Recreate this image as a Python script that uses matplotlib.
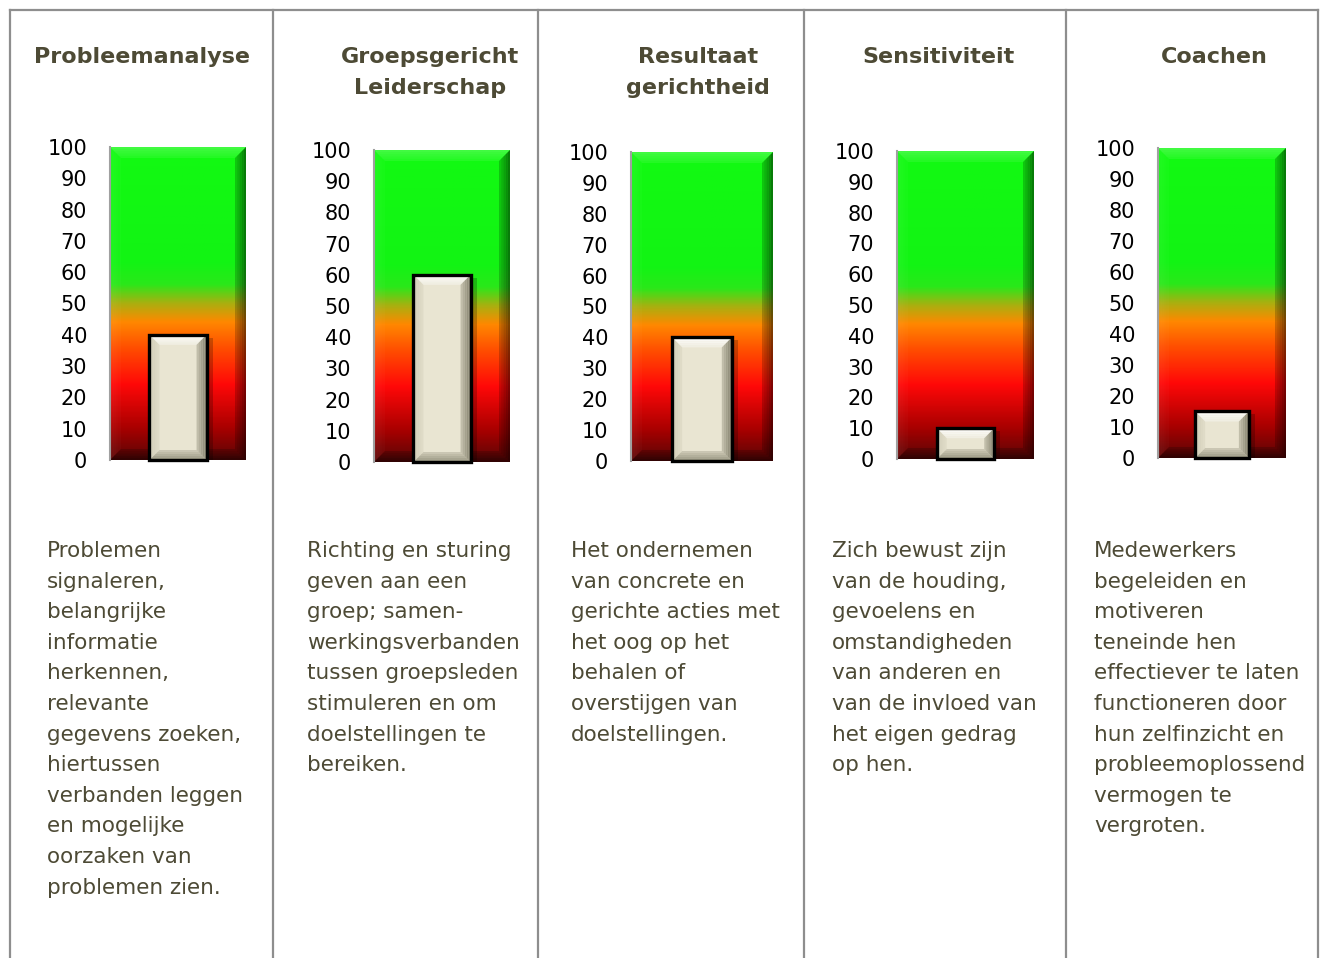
import numpy as np
import matplotlib.pyplot as plt
from matplotlib.colors import LinearSegmentedColormap
from matplotlib.patches import Polygon, Rectangle
from matplotlib.lines import Line2D

W, H = 1320, 958

# --- data ---
title_lines = [
    ['Probleemanalyse'],
    ['Groepsgericht', 'Leiderschap'],
    ['Resultaat', 'gerichtheid'],
    ['Sensitiviteit'],
    ['Coachen'],
]
scores = [40, 60, 40, 10, 15]
tick_values = [0, 10, 20, 30, 40, 50, 60, 70, 80, 90, 100]
descriptions = [
    ['Problemen', 'signaleren,', 'belangrijke', 'informatie', 'herkennen,',
     'relevante', 'gegevens zoeken,', 'hiertussen', 'verbanden leggen',
     'en mogelijke', 'oorzaken van', 'problemen zien.'],
    ['Richting en sturing', 'geven aan een', 'groep; samen-',
     'werkingsverbanden', 'tussen groepsleden', 'stimuleren en om',
     'doelstellingen te', 'bereiken.'],
    ['Het ondernemen', 'van concrete en', 'gerichte acties met',
     'het oog op het', 'behalen of', 'overstijgen van', 'doelstellingen.'],
    ['Zich bewust zijn', 'van de houding,', 'gevoelens en', 'omstandigheden',
     'van anderen en', 'van de invloed van', 'het eigen gedrag', 'op hen.'],
    ['Medewerkers', 'begeleiden en', 'motiveren', 'teneinde hen',
     'effectiever te laten', 'functioneren door', 'hun zelfinzicht en',
     'probleemoplossend', 'vermogen te', 'vergroten.'],
]

# --- layout (pixels) ---
col_edges = [10, 273, 538, 804, 1066, 1318]
gauge_boxes = [(110, 246, 147, 460), (374, 510, 150, 462), (631, 773, 152, 461),
               (897, 1034, 151, 459), (1158, 1286, 148, 458)]
title_centers = [142, 430, 698, 938, 1214]
text_left = [47, 307, 571, 832, 1094]

text_color = '#4d4a35'
line_color = '#8e8e8e'
gauge_cmap = LinearSegmentedColormap.from_list('gauge', [
    (0.00, '#5a0606'), (0.10, '#a80000'), (0.24, '#ff0808'), (0.36, '#ff5000'),
    (0.44, '#ff8800'), (0.50, '#a8b010'), (0.56, '#2ae81a'), (0.63, '#12f414'),
    (1.00, '#12fa12')])

plt.rcParams['font.family'] = ['DejaVu Sans']


def fx(px):
    return px / W


def fy(py):
    return 1 - py / H


def bevel(ax, x0, x1, y0, y1, bx, by, colors, alphas, z, steps=5):
    # soft bevel: each side is a stack of thin bands fading toward the centre
    for j in range(steps):
        a, b = j / steps, (j + 1) / steps
        outer = [(x0 + bx * a, y1 - by * a), (x1 - bx * a, y1 - by * a),
                 (x1 - bx * a, y0 + by * a), (x0 + bx * a, y0 + by * a)]
        inner = [(x0 + bx * b, y1 - by * b), (x1 - bx * b, y1 - by * b),
                 (x1 - bx * b, y0 + by * b), (x0 + bx * b, y0 + by * b)]
        fade = 1 - 0.75 * j / steps
        for k in range(4):
            poly = [outer[k], outer[(k + 1) % 4], inner[(k + 1) % 4], inner[k]]
            ax.add_patch(Polygon(poly, closed=True, facecolor=colors[k],
                                 alpha=alphas[k] * fade, edgecolor='none',
                                 zorder=z, clip_on=False))


fig = plt.figure(figsize=(W / 100, H / 100), dpi=100)
fig.patch.set_facecolor('white')

# table lines
for x in col_edges:
    fig.add_artist(Line2D([fx(x), fx(x)], [fy(10), fy(H)], color=line_color, lw=1.6))
fig.add_artist(Line2D([fx(col_edges[0]), fx(col_edges[-1])], [fy(10), fy(10)],
                      color=line_color, lw=1.6))

gradient = np.linspace(0, 100, 256).reshape(-1, 1)
bar_w = 0.42

for i in range(5):
    gx0, gx1, gy0, gy1 = gauge_boxes[i]
    gw, gh = gx1 - gx0, gy1 - gy0
    ax = fig.add_axes([fx(gx0), fy(gy1), gw / W, gh / H])
    ax.imshow(gradient, cmap=gauge_cmap, vmin=0, vmax=100, origin='lower',
              extent=(0, 1, 0, 100), aspect='auto', zorder=1)
    ax.set_xlim(0, 1)
    ax.set_ylim(0, 100)
    ax.set_xticks([])
    ax.set_yticks(tick_values)
    ax.tick_params(axis='y', length=0, pad=16.5, labelsize=15, labelcolor='black')
    for spine in ax.spines.values():
        spine.set_visible(False)

    # gauge bevel
    bevel(ax, 0, 1, 0, 100, 11 / gw, 11 / gh * 100,
          ['white', 'black', 'black', 'white'], [0.2, 0.5, 0.45, 0.06], 1.5)
    ax.plot([0, 0], [0, 100], color='#a0a0a0', lw=1.5, zorder=1.6, clip_on=False)

    # bar
    v = scores[i]
    bx0, bx1 = 0.5 - bar_w / 2, 0.5 + bar_w / 2
    ax.add_patch(Rectangle((bx0 + 6 / gw, 0), bar_w, v - 3 / gh * 100, facecolor='black',
                           alpha=0.22, edgecolor='none', zorder=2.5))
    ax.bar(0.5, v, width=bar_w, color='#e9e5d2', edgecolor='none', zorder=3, clip_on=False)
    bevel(ax, bx0, bx1, 0, v, 10 / gw, 10 / gh * 100,
          ['#ffffff', '#6f6c58', '#8a8772', '#c8c4ae'], [0.9, 0.8, 0.8, 0.7], 4)
    ax.bar(0.5, v, width=bar_w, color='none', edgecolor='black', linewidth=2.4,
           zorder=5, clip_on=False)

    # title
    lines = title_lines[i]
    for k, line in enumerate(lines):
        fig.text(fx(title_centers[i]), fy(57 + 31 * k), line, ha='center', va='center',
                 fontsize=16, fontweight='bold', color=text_color)

    # description
    for k, line in enumerate(descriptions[i]):
        fig.text(fx(text_left[i]), fy(551 + 30.6 * k), line, ha='left', va='center',
                 fontsize=15.5, color=text_color)

fig.savefig('out.png', dpi=100, facecolor='white')
